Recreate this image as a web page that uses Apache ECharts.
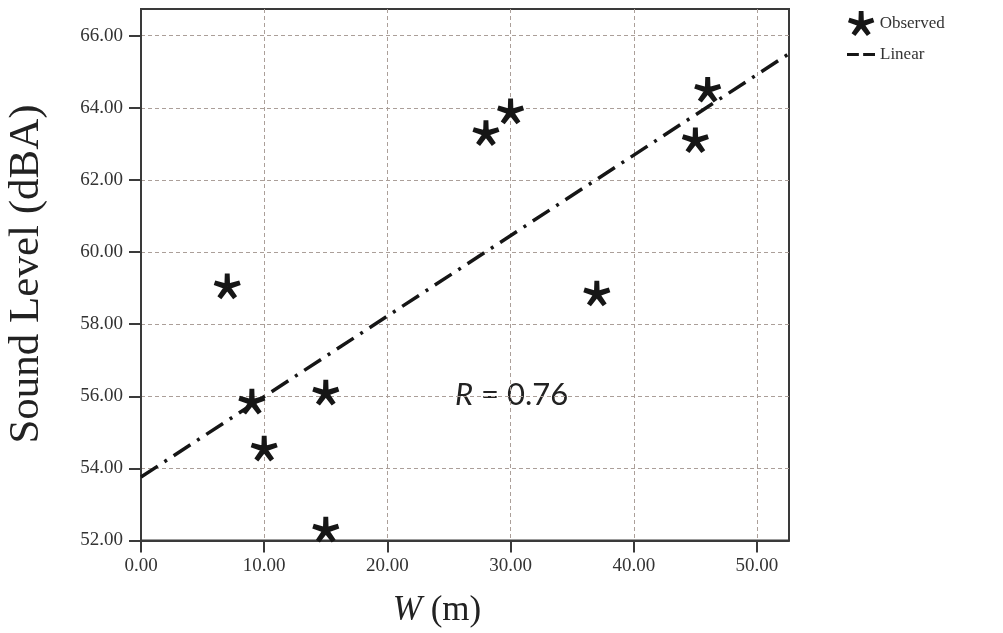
<!DOCTYPE html>
<html>
<head>
<meta charset="utf-8">
<script src="https://cdn.jsdelivr.net/npm/echarts@6/dist/echarts.min.js"></script>
<style>
html,body{margin:0;padding:0;background:#fff;}
#chart{width:1003px;height:633px;}
</style>
</head>
<body>
<div id="chart"></div>
<script>
// ---- data ----
const obsX = [7, 9, 10, 15, 15, 28, 30, 37, 45, 46];
const obsY = [59.05, 55.85, 54.55, 56.1, 52.3, 63.3, 63.9, 58.85, 63.1, 64.5];
const lineX = [0, 52.6];
const lineY = [53.76, 65.5];
const xTicks = [0, 10, 20, 30, 40, 50];
const yTicks = [52, 54, 56, 58, 60, 62, 64, 66];
const seriesNames = ['Observed', 'Linear'];

// ---- symbol path (5-arm asterisk) ----
function starPath() {
  const L = 13, w = 5.6;
  let p = '';
  for (let k = 0; k < 5; k++) {
    const a = k * 72 * Math.PI / 180;
    const d = [Math.sin(a), -Math.cos(a)];
    const n = [Math.cos(a), Math.sin(a)];
    const pts = [
      [-n[0] * w / 2, -n[1] * w / 2],
      [n[0] * w / 2, n[1] * w / 2],
      [n[0] * w * 0.42 + d[0] * L, n[1] * w * 0.42 + d[1] * L],
      [-n[0] * w * 0.42 + d[0] * L, -n[1] * w * 0.42 + d[1] * L]
    ];
    p += 'M' + pts.map(q => (q[0] + 20).toFixed(3) + ',' + (q[1] + 20).toFixed(3)).join('L') + 'Z';
  }
  return 'path://' + p;
}
const STAR = starPath();
const DASHES = 'path://M0,0L11,0L11,3L0,3Z M15,0L26,0L26,3L15,3Z';

const serif = 'Liberation Serif';
const ink = '#161616';
const axisCol = '#3a3a3a';

const chart = echarts.init(document.getElementById('chart'), null, {renderer: 'canvas'});
chart.setOption({
  backgroundColor: '#ffffff',
  animation: false,
  grid: {
    left: 141, right: 214, top: 9, bottom: 92.5,
    show: true, borderColor: axisCol, borderWidth: 2, backgroundColor: 'transparent'
  },
  legend: [
    {
      data: [{name: seriesNames[0], icon: STAR, itemStyle: {opacity: 1}}],
      left: 848, top: 11, padding: 0, itemWidth: 27, itemHeight: 25,
      textStyle: {fontFamily: serif, fontSize: 17, color: '#333'}
    },
    {
      data: [{name: seriesNames[1], icon: DASHES}],
      left: 847, top: 46, padding: 0, itemWidth: 28, itemHeight: 4,
      textStyle: {fontFamily: serif, fontSize: 17, color: '#333'}
    }
  ],
  xAxis: {
    type: 'value', min: 0, max: 52.6,
    axisLine: {show: true, onZero: false, lineStyle: {color: axisCol, width: 2}},
    axisTick: {show: true, length: 12, lineStyle: {color: axisCol, width: 2}, customValues: xTicks},
    axisLabel: {
      customValues: xTicks, margin: 16, color: '#333', fontFamily: serif, fontSize: 19,
      formatter: v => Number(v).toFixed(2)
    },
    splitLine: {show: true, lineStyle: {color: '#ab9f99', width: 1, type: [4, 3]}}
  },
  yAxis: {
    type: 'value', min: 52, max: 66.74,
    axisLine: {show: true, onZero: false, lineStyle: {color: axisCol, width: 2}},
    axisTick: {show: true, length: 12, lineStyle: {color: axisCol, width: 2}, customValues: yTicks},
    axisLabel: {
      customValues: yTicks, margin: 18, color: '#333', fontFamily: serif, fontSize: 19,
      formatter: v => Number(v).toFixed(2)
    },
    splitLine: {show: true, lineStyle: {color: '#ab9f99', width: 1, type: [4, 3]}}
  },
  series: [
    {
      name: seriesNames[0], type: 'scatter',
      symbol: STAR, symbolSize: 27, symbolKeepAspect: true,
      itemStyle: {color: ink, opacity: 1},
      data: obsX.map((x, i) => [x, obsY[i]]),
      z: 5
    },
    {
      name: seriesNames[1], type: 'line', showSymbol: false, symbol: 'none',
      clip: true,
      itemStyle: {color: ink},
      lineStyle: {color: ink, width: 3.5, type: [20, 8, 3, 8], cap: 'butt'},
      data: lineX.map((x, i) => [x, lineY[i]]),
      z: 4
    }
  ],
  graphic: [
    {
      type: 'text', x: 27, y: 274, rotation: Math.PI / 2,
      style: {text: 'Sound Level (dBA)', fontFamily: serif, fontSize: 43, fill: '#222',
        align: 'center', verticalAlign: 'middle'}
    },
    {
      type: 'text', x: 437, y: 611,
      style: {
        text: '{i|W} (m)', fontFamily: serif, fontSize: 35, fill: '#222',
        align: 'center', verticalAlign: 'middle',
        rich: {i: {fontFamily: serif, fontStyle: 'italic', fontSize: 35, fill: '#222'}}
      }
    },
    {
      type: 'text', x: 455, y: 395,
      style: {
        text: '{i|R} = 0.76', fontFamily: 'Lato', fontSize: 31, fill: '#222',
        align: 'left', verticalAlign: 'middle',
        rich: {i: {fontFamily: 'Lato', fontStyle: 'italic', fontSize: 31, fill: '#222'}}
      }
    }
  ]
});
</script>
</body>
</html>
